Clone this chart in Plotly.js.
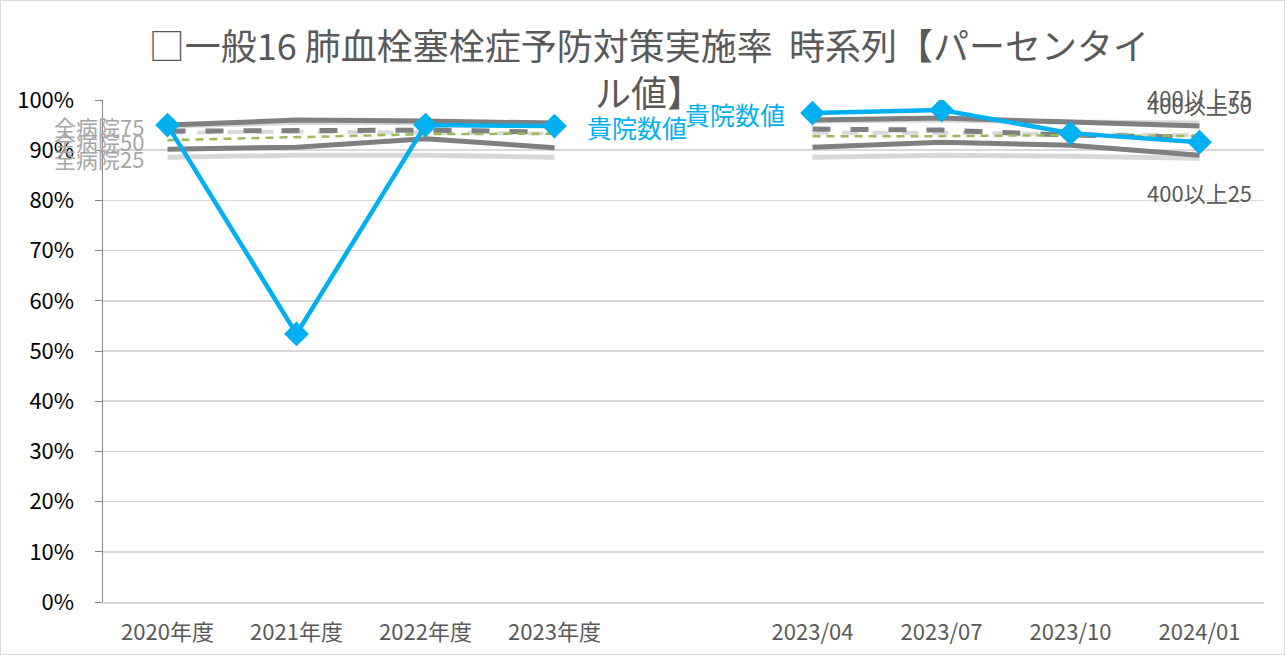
<!DOCTYPE html>
<html>
<head>
<meta charset="utf-8">
<script src="https://cdn.plot.ly/plotly-3.0.1.min.js"></script>
<style>
html,body{margin:0;padding:0;background:#fff;}
#chart{width:1283px;height:653px;border:1px solid #D9D9D9;}
</style>
</head>
<body>
<div id="chart"></div>
<script>
// ---- data ----
const categories = ['2020年度','2021年度','2022年度','2023年度',' ','2023/04','2023/07','2023/10','2024/01'];
const hospital = [0.950, 0.534, 0.950, 0.948, null, 0.974, 0.980, 0.934, 0.916];   // 貴院数値
const all75    = [0.948, 0.955, 0.955, 0.953, null, 0.958, 0.960, 0.956, 0.954];   // 全病院75
const all50    = [0.935, 0.937, 0.935, 0.933, null, 0.935, 0.935, 0.932, 0.930];   // 全病院50
const all25    = [0.886, 0.890, 0.890, 0.886, null, 0.886, 0.890, 0.888, 0.884];   // 全病院25
const over75   = [0.950, 0.960, 0.958, 0.954, null, 0.960, 0.964, 0.956, 0.948];   // 400以上75
const over50   = [0.938, 0.940, 0.940, 0.936, null, 0.942, 0.940, 0.930, 0.926];   // 400以上50
const over25   = [0.902, 0.906, 0.923, 0.905, null, 0.906, 0.916, 0.910, 0.890];   // 400以上25
const average  = [0.920, 0.926, 0.932, 0.933, null, 0.928, 0.928, 0.930, 0.928];   // 平均
const yTicks   = [0, 0.1, 0.2, 0.3, 0.4, 0.5, 0.6, 0.7, 0.8, 0.9, 1.0];

const FONT = '"Noto Sans CJK JP", "Noto Sans", sans-serif';
const LIGHT = '#D9D9D9', DARK = '#7F7F7F', BLUE = '#00B0F0', GREEN = '#9BBB59';

function line(name, y, color, width, dash) {
  return {type:'scatter', mode:'lines', name:name, x:categories, y:y,
          connectgaps:false, hoverinfo:'skip',
          line:{color:color, width:width, dash:dash || 'solid'}};
}

const traces = [
  line('全病院75', all75, LIGHT, 5),
  line('全病院25', all25, LIGHT, 5),
  line('全病院50', all50, LIGHT, 4, '16px,14px'),
  line('400以上75', over75, DARK, 5),
  line('400以上25', over25, DARK, 5),
  line('400以上50', over50, DARK, 5, '18px,20px'),
  line('平均', average, GREEN, 2.5, '8px,6px'),
  {type:'scatter', mode:'lines+markers', name:'貴院数値', x:categories, y:hospital,
   connectgaps:false, line:{color:BLUE, width:4.5},
   marker:{symbol:'diamond', size:19, color:BLUE}}
];

const last = categories.length - 1;
const annotations = [
  {x:categories[0], y:all75[0], text:'全病院75', xanchor:'right', xshift:-22, yshift:0,
   font:{color:'#A6A6A6', size:22}},
  {x:categories[0], y:all50[0], text:'全病院50', xanchor:'right', xshift:-22, yshift:-8,
   font:{color:'#A6A6A6', size:22}},
  {x:categories[0], y:all25[0], text:'全病院25', xanchor:'right', xshift:-22, yshift:-1,
   font:{color:'#A6A6A6', size:22}},
  {x:categories[last], y:over75[last], text:'400以上75', xanchor:'center', yshift:29,
   font:{color:'#595959', size:22}},
  {x:categories[last], y:over50[last], text:'400以上50', xanchor:'center', yshift:33,
   font:{color:'#595959', size:22}},
  {x:categories[last], y:over25[last], text:'400以上25', xanchor:'center', yshift:-37,
   font:{color:'#595959', size:22}},
  {x:categories[3], y:hospital[3], text:'貴院数値', xanchor:'left', xshift:30, yshift:-1,
   font:{color:BLUE, size:25}},
  {x:categories[5], y:hospital[5], text:'貴院数値', xanchor:'right', xshift:-26, yshift:-1,
   font:{color:BLUE, size:25}}
].map(a => Object.assign({xref:'x', yref:'y', showarrow:false}, a));

const layout = {
  width:1283, height:653,
  margin:{l:102, r:20, t:99, b:52, pad:0},
  paper_bgcolor:'#fff', plot_bgcolor:'#fff',
  font:{family:FONT, color:'#595959'},
  showlegend:false,
  title:{text:'□一般16 肺血栓塞栓症予防対策実施率\u00a0\u00a0時系列【パーセンタイ<br>ル値】',
         x:0.505, xanchor:'center', yref:'container', y:0.91, yanchor:'top',
         font:{family:FONT, size:36, color:'#595959'}},
  xaxis:{type:'category', categoryorder:'array', categoryarray:categories,
         range:[-0.5, categories.length - 0.5], showgrid:false, zeroline:false,
         showline:true, linecolor:LIGHT, linewidth:1.5, ticks:'',
         tickfont:{family:FONT, size:22, color:'#595959'}, ticklabelstandoff:10},
  yaxis:{range:[0, 1.0], tickvals:yTicks, tickformat:'.0%',
         showgrid:true, gridcolor:LIGHT, gridwidth:1.5, zeroline:false,
         showline:true, linecolor:'#868686', linewidth:1.5,
         ticks:'outside', ticklen:7, tickcolor:'#868686', ticklabelstandoff:16,
         tickfont:{family:FONT, size:22, color:'#000'}},
  annotations:annotations
};

Plotly.newPlot('chart', traces, layout, {displayModeBar:false, staticPlot:true});
</script>
</body>
</html>
